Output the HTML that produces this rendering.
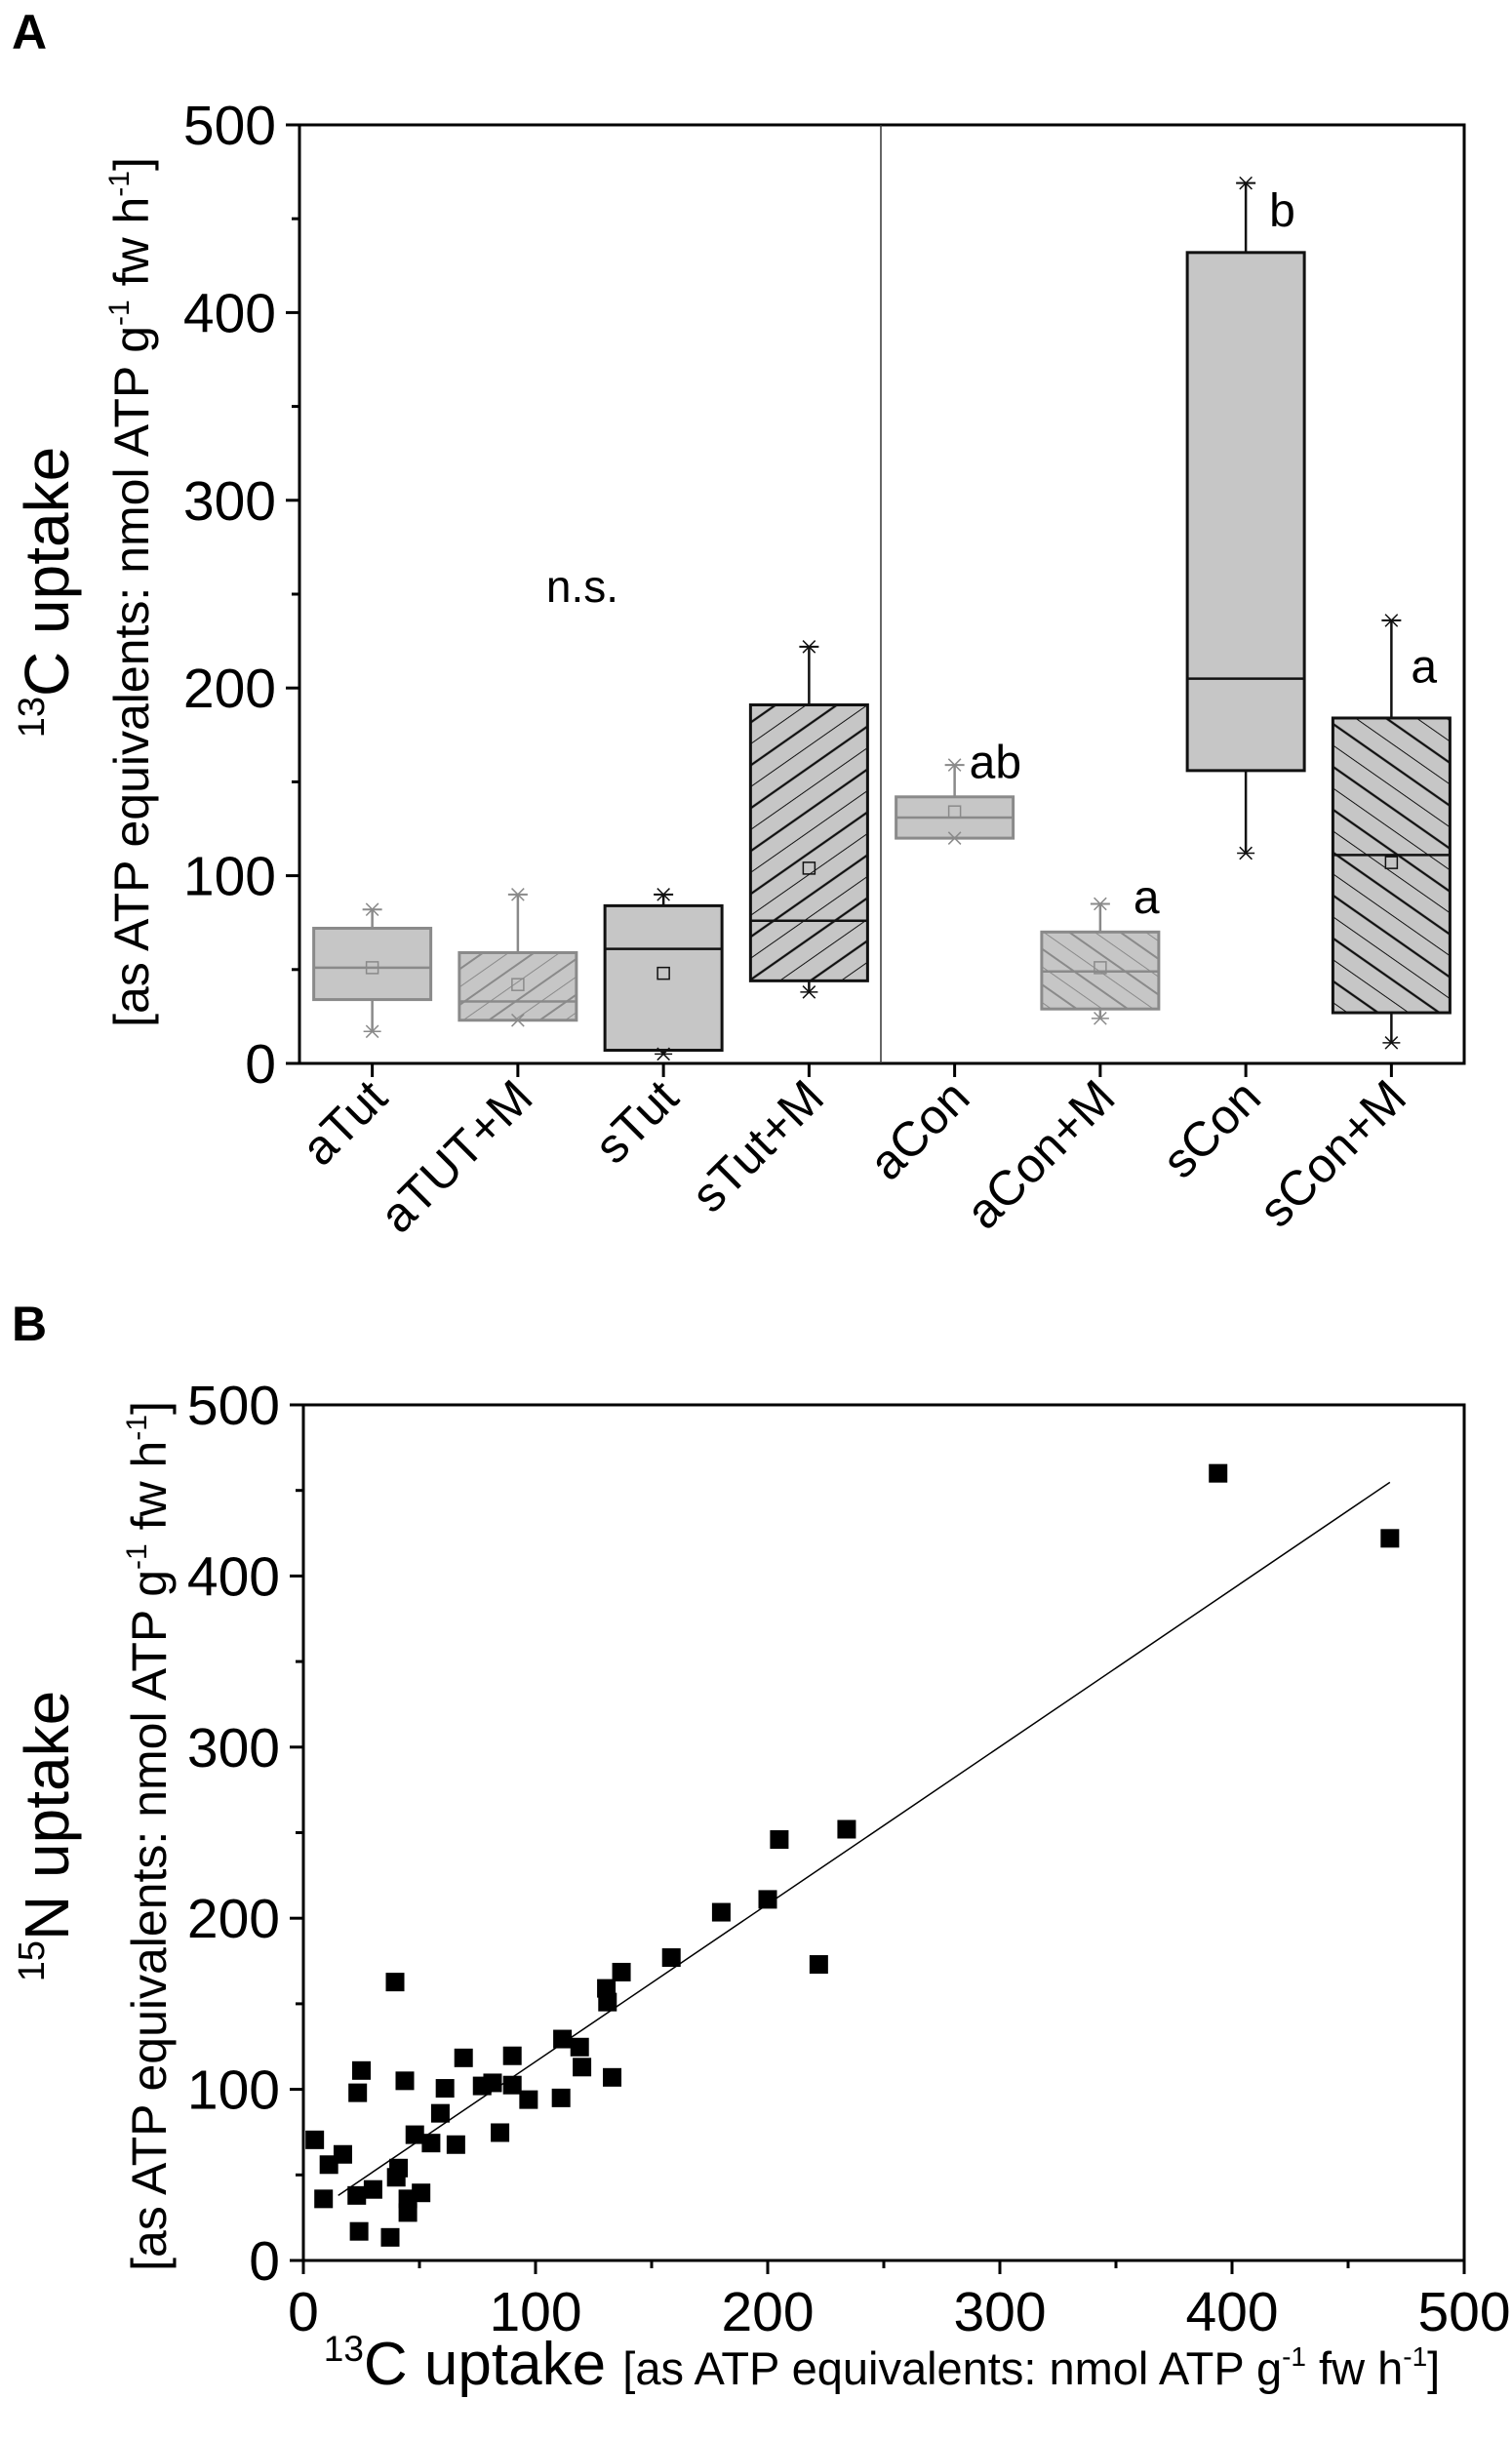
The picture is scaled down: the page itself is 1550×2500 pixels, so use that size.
<!DOCTYPE html>
<html><head><meta charset="utf-8"><style>
html,body{margin:0;padding:0;background:#fff;}
svg{display:block;font-family:"Liberation Sans",Arial,sans-serif;}
</style></head><body>
<svg id="fig" width="1550" height="2500" viewBox="0 0 1550 2500" xmlns="http://www.w3.org/2000/svg">
<defs>
<pattern id="hatchFwdGray" patternUnits="userSpaceOnUse" width="30" height="30" patternTransform="rotate(-35)">
<rect width="30" height="30" fill="#c6c6c6"/>
<line x1="0" y1="4" x2="30" y2="4" stroke="#8a8a8a" stroke-width="2"/>
<line x1="0" y1="19" x2="30" y2="19" stroke="#8a8a8a" stroke-width="1"/>
</pattern>
<pattern id="hatchFwdBlack" patternUnits="userSpaceOnUse" width="36" height="36" patternTransform="rotate(-35)">
<rect width="36" height="36" fill="#c6c6c6"/>
<line x1="0" y1="4" x2="36" y2="4" stroke="#111" stroke-width="2.2"/>
<line x1="0" y1="22" x2="36" y2="22" stroke="#111" stroke-width="1"/>
</pattern>
<pattern id="hatchBackGray" patternUnits="userSpaceOnUse" width="30" height="30" patternTransform="rotate(35)">
<rect width="30" height="30" fill="#c6c6c6"/>
<line x1="0" y1="4" x2="30" y2="4" stroke="#8a8a8a" stroke-width="2"/>
<line x1="0" y1="19" x2="30" y2="19" stroke="#8a8a8a" stroke-width="1"/>
</pattern>
<pattern id="hatchBackBlack" patternUnits="userSpaceOnUse" width="36" height="36" patternTransform="rotate(35)">
<rect width="36" height="36" fill="#c6c6c6"/>
<line x1="0" y1="4" x2="36" y2="4" stroke="#111" stroke-width="2.2"/>
<line x1="0" y1="22" x2="36" y2="22" stroke="#111" stroke-width="1"/>
</pattern>
</defs>

<text x="12" y="50" font-size="50" font-weight="bold">A</text>
<text x="12" y="1374" font-size="50" font-weight="bold">B</text>

<g id="panelA"></g>
<g id="panelB"></g>

<text transform="translate(70,607) rotate(-90)" text-anchor="middle" font-size="64"><tspan font-size="38" dy="-25">13</tspan><tspan dy="25">C uptake</tspan></text>
<text transform="translate(152,607) rotate(-90)" text-anchor="middle" font-size="50">[as ATP equivalents: nmol ATP g<tspan font-size="30" dy="-20">-1</tspan><tspan dy="20"> fw h</tspan><tspan font-size="30" dy="-20">-1</tspan><tspan dy="20">]</tspan></text>

<text transform="translate(70,1882) rotate(-90)" text-anchor="middle" font-size="64"><tspan font-size="38" dy="-25">15</tspan><tspan dy="25">N uptake</tspan></text>
<text transform="translate(170,1882) rotate(-90)" text-anchor="middle" font-size="50">[as ATP equivalents: nmol ATP g<tspan font-size="30" dy="-20">-1</tspan><tspan dy="20"> fw h</tspan><tspan font-size="30" dy="-20">-1</tspan><tspan dy="20">]</tspan></text>

<text x="904" y="2444" text-anchor="middle" font-size="62"><tspan font-size="37" dy="-24">13</tspan><tspan dy="24">C uptake </tspan><tspan font-size="47">[as ATP equivalents: nmol ATP g</tspan><tspan font-size="28" dy="-19">-1</tspan><tspan font-size="47" dy="19"> fw h</tspan><tspan font-size="28" dy="-19">-1</tspan><tspan font-size="47" dy="19">]</tspan></text>
</svg>
<script>
// ---------- Panel A data ----------
const catsA = ["aTut","aTUT+M","sTut","sTut+M","aCon","aCon+M","sCon","sCon+M"];
const q1A = [34,23,7,44,120,29,156,27];
const q3A = [72,59,84,191,142,70,432,184];
const medA = [51,33,61,76,131,49,205,111];
const whiskLoA = [17,23,5,38,120,24,112,11];
const whiskHiA = [82,90,90,222,159,85,469,236];
const meanA = [51,42,48,104,134,51,null,107];
const styleA = ["gray","grayFwd","black","blackFwd","gray","grayBack","black","blackBack"];
const sigLabelsA = ["","","","","ab","a","b","a"];
const sigValueA = [0,0,0,0,152,80,446,203];
const yTicksA = [0,100,200,300,400,500];

// ---------- Panel B data ----------
const xB = [4.9,11,17,8.7,23,30,23.4,25,24,37.4,39.5,41,40,43.7,45,45,50.7,48,55,59,61,65.7,69,77,81.5,84.7,90,90,97,111,111.6,119,120,133,130.5,131,137,158.5,180,200,205,234,222,394,468];
const yB = [70.5,56,62,36,38,41.5,98,111,17,13.5,162.7,54,48.6,105,28,36,39.5,73.5,68.6,86,100.6,67.7,118.4,102,103.8,74.7,119.6,102.5,94,95,129.4,124.7,113,107,159,151,168.5,177,203.5,211,246,252,173,460,422];
const fitB = [0.92, 24.2];
const fitRangeB = [15, 468];
const xTicksB = [0,100,200,300,400,500];
const yTicksB = [0,100,200,300,400,500];

const NS = "http://www.w3.org/2000/svg";
function mk(parent, tag, attrs){ const e=document.createElementNS(NS,tag); for(const k in attrs) e.setAttribute(k,attrs[k]); parent.appendChild(e); return e; }

const AL=307, AR=1501, AT=128, AB=1090;
const yA = v => AB - (v/500)*(AB-AT);
const bandA = (AR-AL)/catsA.length;
const xA = i => AL + bandA*(i+0.5);
const gA = document.getElementById('panelA');

let frameA = mk(gA,'rect',{x:AL,y:AT,width:AR-AL,height:AB-AT,fill:'none',stroke:'#000','stroke-width':3});


let div = mk(gA,'line',{x1:903,y1:AT,x2:903,y2:AB,stroke:'#333','stroke-width':1.5});



for(let v=0; v<=500; v+=50){
  const major = v%100===0;
  let t = mk(gA,'line',{x1:AL-(major?14:8),y1:yA(v),x2:AL,y2:yA(v),stroke:'#000','stroke-width':3});
  
  
}
yTicksA.forEach(v=>{
  let t = mk(gA,'text',{x:AL-24,y:yA(v)+20,'text-anchor':'end','font-size':57});
  t.textContent=v;
  
  
});
catsA.forEach((c,i)=>{
  let t = mk(gA,'line',{x1:xA(i),y1:AB,x2:xA(i),y2:AB+14,stroke:'#000','stroke-width':3});
  
  
  let l = mk(gA,'text',{transform:`translate(${xA(i)+18},${AB+38}) rotate(-45)`,'text-anchor':'end','font-size':50});
  l.textContent=c;
  
  
});

function star(g,cx,cy,col){
  const s=9;
  mk(g,'line',{x1:cx-s,y1:cy,x2:cx+s,y2:cy,stroke:col,'stroke-width':1.5});
  mk(g,'line',{x1:cx-s*0.7,y1:cy-s*0.7,x2:cx+s*0.7,y2:cy+s*0.7,stroke:col,'stroke-width':1.5});
  mk(g,'line',{x1:cx-s*0.7,y1:cy+s*0.7,x2:cx+s*0.7,y2:cy-s*0.7,stroke:col,'stroke-width':1.5});
}
const fills = {gray:'#c6c6c6',grayFwd:'url(#hatchFwdGray)',black:'#c6c6c6',blackFwd:'url(#hatchFwdBlack)',grayBack:'url(#hatchBackGray)',blackBack:'url(#hatchBackBlack)'};
const sigDx = [0,0,0,0,15,34,24,20];
const bw = 120;
catsA.forEach((c,i)=>{
  const st=styleA[i];
  const col = st.startsWith('gray') ? '#8a8a8a' : '#111';
  const g = mk(gA,'g',{});
  
  
  const cx=xA(i);
  mk(g,'line',{x1:cx,y1:yA(whiskHiA[i]),x2:cx,y2:yA(q3A[i]),stroke:col,'stroke-width':2.5});
  mk(g,'line',{x1:cx,y1:yA(q1A[i]),x2:cx,y2:yA(whiskLoA[i]),stroke:col,'stroke-width':2.5});
  mk(g,'line',{x1:cx-10,y1:yA(whiskHiA[i]),x2:cx+10,y2:yA(whiskHiA[i]),stroke:col,'stroke-width':2});
  mk(g,'rect',{x:cx-bw/2,y:yA(q3A[i]),width:bw,height:yA(q1A[i])-yA(q3A[i]),fill:fills[st],stroke:col,'stroke-width':3});
  mk(g,'line',{x1:cx-bw/2,y1:yA(medA[i]),x2:cx+bw/2,y2:yA(medA[i]),stroke:col,'stroke-width':2.5});
  star(g,cx,yA(whiskHiA[i]),col);
  star(g,cx,yA(whiskLoA[i]),col);
  if(meanA[i]!==null) mk(g,'rect',{x:cx-6,y:yA(meanA[i])-6,width:12,height:12,fill:'none',stroke:col,'stroke-width':1.5});
  if(sigLabelsA[i]){
    let t = mk(gA,'text',{x:cx+sigDx[i],y:yA(sigValueA[i]),'font-size':48});
    t.textContent=sigLabelsA[i];
    
    
  }
});
let ns = mk(gA,'text',{x:597,y:617,'text-anchor':'middle','font-size':46});
ns.textContent='n.s.';



const BL=311, BR=1501, BT=1440, BB=2317;
const sx = v => BL + (v/500)*(BR-BL);
const sy = v => BB - (v/500)*(BB-BT);
const gB = document.getElementById('panelB');
let frameB = mk(gB,'rect',{x:BL,y:BT,width:BR-BL,height:BB-BT,fill:'none',stroke:'#000','stroke-width':3});


for(let v=0; v<=500; v+=50){
  const major=v%100===0;
  let t = mk(gB,'line',{x1:BL-(major?14:8),y1:sy(v),x2:BL,y2:sy(v),stroke:'#000','stroke-width':3});
  
  
  let t2 = mk(gB,'line',{x1:sx(v),y1:BB,x2:sx(v),y2:BB+(major?14:8),stroke:'#000','stroke-width':3});
  
  
}
yTicksB.forEach(v=>{
  let t = mk(gB,'text',{x:BL-24,y:sy(v)+20,'text-anchor':'end','font-size':57});
  t.textContent=v;
  
  
});
xTicksB.forEach(v=>{
  let t = mk(gB,'text',{x:sx(v),y:BB+72,'text-anchor':'middle','font-size':57});
  t.textContent=v;
  
  
});
let fit = mk(gB,'line',{x1:sx(fitRangeB[0]),y1:sy(fitB[0]*fitRangeB[0]+fitB[1]),x2:sx(fitRangeB[1]),y2:sy(fitB[0]*fitRangeB[1]+fitB[1]),stroke:'#000','stroke-width':1.5});


xB.forEach((x,i)=>{
  let p = mk(gB,'rect',{x:sx(x)-9.5,y:sy(yB[i])-9.5,width:19,height:19,fill:'#000'});
  
  
});
</script>
</body></html>
